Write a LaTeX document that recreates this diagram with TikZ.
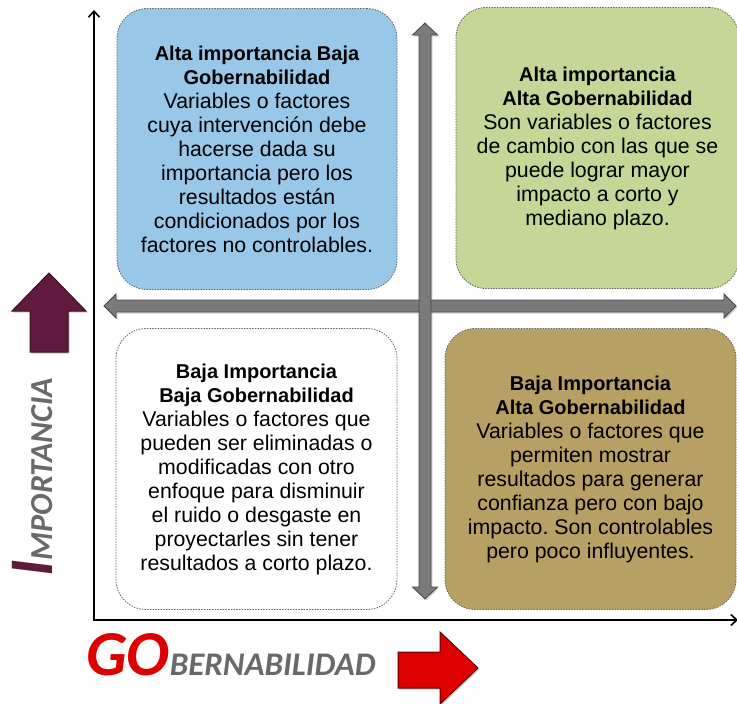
\documentclass[tikz,border=0pt]{standalone}
\usepackage{fontspec}
\setmainfont{Liberation Sans}
\newfontfamily\axisfont{Carlito}
\usetikzlibrary{arrows.meta,shadows}
\definecolor{cuadazul}{RGB}{152,199,232}
\definecolor{cuadverde}{RGB}{196,215,150}
\definecolor{cuadcafe}{RGB}{183,160,100}
\definecolor{vino}{RGB}{96,26,60}
\definecolor{rojo}{RGB}{222,0,0}
\definecolor{gristexto}{RGB}{105,105,105}
\newcommand{\cab}[1]{{\fontsize{20}{24}\selectfont\bfseries #1}}
\frenchspacing

\begin{document}
\begin{tikzpicture}[x=1pt, y=-1pt,
  quadrant/.style={rounded corners=30pt, draw=black!60, line width=0.8pt,
    dash pattern=on 1.5pt off 1.2pt, minimum height=281pt, inner sep=0pt,
    align=center, font=\fontsize{21.3}{24}\selectfont},
  flecha/.style={fill=black!52, draw=black!72, line width=0.8pt,
    drop shadow={opacity=0.3, shadow xshift=1.5pt, shadow yshift=-1.5pt}},
  eje/.style={line width=1.6pt, {Straight Barb[length=6pt,width=11pt]}-{Straight Barb[length=6pt,width=11pt]}}]
  \useasboundingbox (0,0) rectangle (737,704);

  % Ejes
  \coordinate (origen) at (94,620);
  \coordinate (ymax) at (94,10);
  \coordinate (xmax) at (738,620);
  \draw[eje] (ymax) -- (origen) -- (xmax);

  % Cuatro cuadrantes
  \node[quadrant, fill=cuadazul, minimum width=280pt] (altabaja) at (257,149)
    {\cab{Alta importancia Baja}\\ \cab{Gobernabilidad}\\ Variables o factores\\
     cuya intervención debe\\ hacerse dada su\\ importancia pero los\\
     resultados están\\ condicionados por los\\ factores no controlables.};
  \node[quadrant, fill=cuadverde, minimum width=283pt] (altaalta) at (597.5,148)
    {\cab{Alta importancia}\\ \cab{Alta Gobernabilidad}\\ Son variables o factores\\
     de cambio con las que se\\ puede lograr mayor\\ impacto a corto y\\ mediano plazo.};
  \node[quadrant, fill=white, minimum width=281pt] (bajabaja) at (256.5,469)
    {\cab{Baja Importancia}\\ \cab{Baja Gobernabilidad}\\ Variables o factores que\\
     pueden ser eliminadas o\\ modificadas con otro\\ enfoque para disminuir\\
     el ruido o desgaste en\\ proyectarles sin tener\\ resultados a corto plazo.};
  \node[quadrant, fill=cuadcafe, minimum width=291pt] (bajaalta) at (590.5,469)
    {\cab{Baja Importancia}\\ \cab{Alta Gobernabilidad}\\ Variables o factores que\\
     permiten mostrar\\ resultados para generar\\ confianza pero con bajo\\
     impacto. Son controlables\\ pero poco influyentes.};

  % Flechas grises dobles
  \draw[flecha] (104,306) -- (116,294) -- (116,300) -- (724,300) -- (724,294) -- (736,306)
    -- (724,318) -- (724,312) -- (116,312) -- (116,318) -- cycle;
  \draw[flecha] (425,23) -- (437.5,35) -- (431,35) -- (431,587) -- (437.5,587) -- (425,599)
    -- (412.5,587) -- (419,587) -- (419,35) -- (412.5,35) -- cycle;

  % Flechas de los ejes
  \draw[fill=vino, draw=vino!60!black, line width=1pt,
    drop shadow={opacity=0.4, shadow xshift=1.5pt, shadow yshift=-1.5pt}]
    (49,273) -- (86,311) -- (68,311) -- (68,352) -- (30,352) -- (30,311) -- (12,311) -- cycle;
  \draw[fill=rojo, draw=rojo!45!black, line width=1pt,
    drop shadow={opacity=0.4, shadow xshift=1.5pt, shadow yshift=-1.5pt}]
    (398,652) -- (440,652) -- (440,632) -- (478,668) -- (440,704) -- (440,688) -- (398,688) -- cycle;

  % Titulos de los ejes
  \node[anchor=base west, inner sep=0pt, rotate=90, font=\axisfont\bfseries\itshape] (importancia) at (52,577)
    {\textcolor{vino}{\fontsize{62}{62}\selectfont I}\textcolor{gristexto}{\fontsize{32}{32}\selectfont MPORTANCIA}};
  \node[anchor=base west, inner sep=0pt, font=\axisfont\bfseries\itshape] (gobernabilidad) at (86,675)
    {\textcolor{rojo}{\fontsize{64}{64}\selectfont GO}\textcolor{gristexto}{\fontsize{33}{33}\selectfont BERNABILIDAD}};
\end{tikzpicture}
\end{document}
